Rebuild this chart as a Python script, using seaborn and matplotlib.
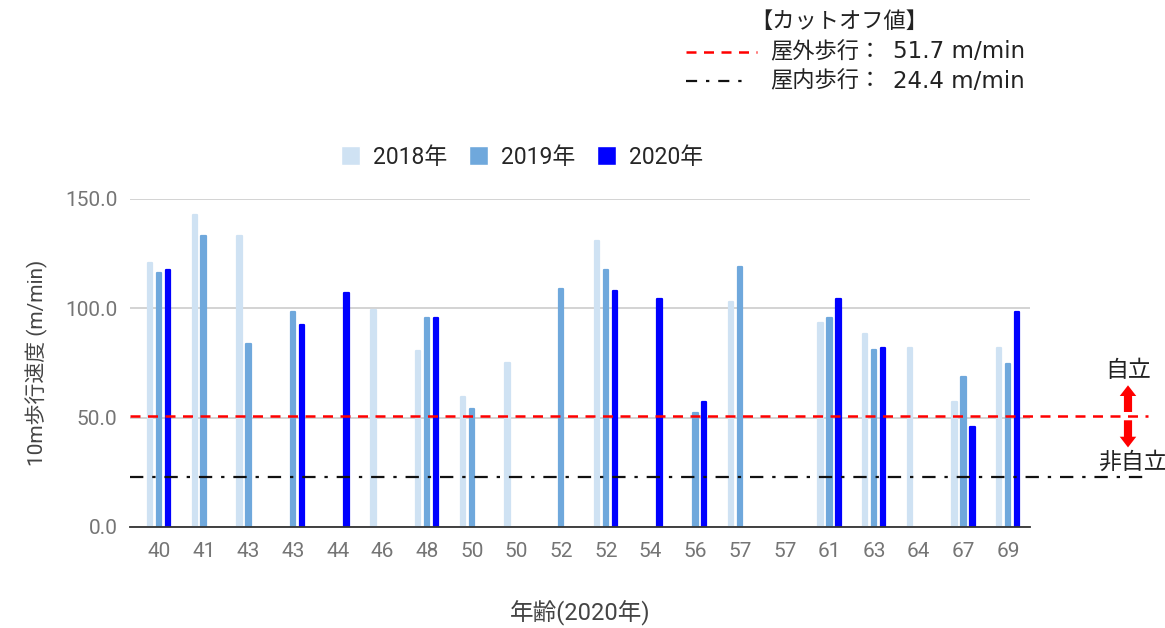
import numpy as np
import pandas as pd
import matplotlib
matplotlib.use("Agg")
import matplotlib.pyplot as plt
from matplotlib.lines import Line2D
import seaborn as sns

# ages (x tick labels) - duplicates are different people
ages = ["40", "41", "43", "43", "44", "46", "48", "50", "50", "52",
        "52", "54", "56", "57", "57", "61", "63", "64", "67", "69"]
nan = np.nan
y2018 = [120.7, 142.7, 133.0, nan, nan, 99.2, 80.5, 59.4, 75.0, nan,
         130.8, nan, nan, 102.9, nan, 93.3, 88.2, 81.8, 57.2, 81.8]
y2019 = [116.0, 133.0, 83.7, 98.3, nan, nan, 95.6, 54.0, nan, 108.8,
         117.5, nan, 52.0, 118.9, nan, 95.6, 80.9, nan, 68.6, 74.5]
y2020 = [117.5, nan, nan, 92.4, 107.0, nan, 95.6, nan, nan, nan,
         108.0, 104.3, 57.0, nan, nan, 104.3, 81.8, nan, 45.7, 98.3]
years = ["2018年", "2019年", "2020年"]
colors = ["#cfe2f3", "#6fa8dc", "#0000ff"]
# cutoff values (text) and where the hand-drawn lines sit on the chart
outdoor_cut = 51.7
indoor_cut = 24.4
outdoor_line = 50.8
indoor_line = 23.0

rows = []
for yr, vals in zip(years, [y2018, y2019, y2020]):
    for i, v in enumerate(vals):
        rows.append({"idx": i, "year": yr, "speed": v})
df = pd.DataFrame(rows)

sns.set_style("white")
plt.rcParams["font.family"] = ["Roboto", "Noto Sans CJK JP", "DejaVu Sans"]

W, H = 1165, 628
fig = plt.figure(figsize=(W / 100, H / 100), dpi=100)
ax = fig.add_axes([130 / W, 1 - 527 / H, 900 / W, 328 / H])

sns.barplot(data=df, x="idx", y="speed", hue="year", palette=colors,
            order=list(range(len(ages))), hue_order=years,
            width=0.6, gap=0.5, ax=ax, saturation=1)
# slightly rounded bar ends
for p in ax.patches:
    p.set_edgecolor(p.get_facecolor())
    p.set_linewidth(1.6)
    p.set_joinstyle("round")

ax.set_xlim(-0.65, len(ages) - 0.51)
ax.set_ylim(0, 150)
ax.set_yticks([0, 50, 100, 150])
ax.set_yticklabels(["0.0", "50.0", "100.0", "150.0"])
ax.set_xticks(range(len(ages)))
ax.set_xticklabels(ages)
ax.tick_params(axis="both", length=0, labelsize=15, labelcolor="#757575")
ax.tick_params(axis="x", pad=11)
ax.tick_params(axis="y", pad=9)
ax.yaxis.grid(True, color="#cccccc", lw=1.2)
ax.set_axisbelow(True)
for s in ["left", "right", "top"]:
    ax.spines[s].set_visible(False)
ax.spines["bottom"].set_color("#333333")
ax.spines["bottom"].set_linewidth(1.3)

ax.set_xlabel("年齢(2020年)", fontsize=17, color="#444444", labelpad=28)
ax.set_ylabel("10m歩行速度 (m/min)", fontsize=15, color="#444444", labelpad=12)

# cutoff lines extend past the plot area
ax.axhline(outdoor_line, xmin=0, xmax=(1148 - 130) / 900, color="red",
           ls=(0, (4, 3)), lw=1.8, clip_on=False, zorder=5)
ax.axhline(indoor_line, xmin=0, xmax=(1148 - 130) / 900, color="#111111",
           ls=(0, (6, 4, 1.5, 4)), lw=1.6, clip_on=False, zorder=5)

# arrows and labels on the right
tr = ax.get_yaxis_transform()
xa = (1128 - 130) / 900
arrow = dict(arrowstyle="simple,head_length=0.55,head_width=0.85,tail_width=0.42",
             color="red", lw=0, mutation_scale=14, shrinkA=0, shrinkB=0)
ax.annotate("", xy=(xa, 64.8), xytext=(xa, 52.6), xycoords=tr, textcoords=tr,
            arrowprops=arrow, annotation_clip=False)
ax.annotate("", xy=(xa, 36.4), xytext=(xa, 48.8), xycoords=tr, textcoords=tr,
            arrowprops=arrow, annotation_clip=False)
ax.text(xa, 71.5, "自立", transform=tr, ha="center", va="center",
        fontsize=16.5, color="#222222", family=["Noto Sans CJK JP"])
ax.text(xa + 0.005, 29.5, "非自立", transform=tr, ha="center", va="center",
        fontsize=16.5, color="#222222", family=["Noto Sans CJK JP"])

# series legend
sns.move_legend(ax, "center", bbox_to_anchor=((522 - 130) / 900, (527 - 157) / 328),
                ncol=3, frameon=False, title=None, fontsize=16.5,
                handlelength=0.85, handleheight=0.85, columnspacing=0.95,
                handletextpad=0.55)

# cutoff legend (top right)
fx = lambda x: x / W
fy = lambda y: 1 - y / H
jp = ["Noto Sans CJK JP"]
fig.text(fx(839), fy(21), "【カットオフ値】", ha="center", va="center",
         fontsize=16, color="#222222", family=jp)
fig.add_artist(Line2D([fx(686), fx(757)], [fy(52), fy(52)], color="red",
                      ls=(0, (4, 3)), lw=1.8, transform=fig.transFigure))
fig.add_artist(Line2D([fx(686), fx(750)], [fy(81), fy(81)], color="#111111",
                      ls=(0, (5, 4, 1.5, 4)), lw=1.6, transform=fig.transFigure))
for yy, lab, val in [(52, "屋外歩行：", outdoor_cut), (81, "屋内歩行：", indoor_cut)]:
    fig.text(fx(770), fy(yy), lab, ha="left", va="center",
             fontsize=16, color="#222222", family=jp)
    fig.text(fx(893), fy(yy), f"{val} m/min", ha="left", va="center",
             fontsize=16.5, color="#222222", family=["DejaVu Sans"])

fig.savefig("out.png", dpi=100)
